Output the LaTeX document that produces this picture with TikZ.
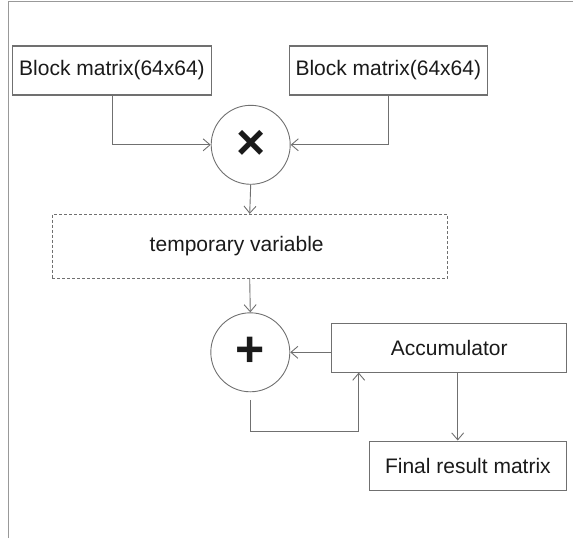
\documentclass[tikz,border=0pt]{standalone}
\usepackage{fontspec}
\setmainfont{Liberation Sans}
\usetikzlibrary{arrows.meta,calc}
\definecolor{linegray}{HTML}{707070}
\definecolor{framegray}{HTML}{999999}
\definecolor{txt}{HTML}{1A1A1A}
\begin{document}
\begin{tikzpicture}[x=1pt,y=-1pt,
  box/.style={draw=linegray,line width=1.1pt,rectangle,inner sep=0pt,text=txt,
    font=\fontsize{21}{25}\selectfont},
  opcircle/.style={draw=linegray,line width=0.9pt,circle,inner sep=0pt,minimum size=79pt,text=txt,
    font=\fontsize{50}{54}\selectfont\bfseries},
  arr/.style={draw=linegray,line width=0.9pt,-{Straight Barb[length=7pt,width=12pt]}},
  frameline/.style={draw=framegray,line width=1.5pt}
]
\useasboundingbox (0,0) rectangle (575,538);
\draw[frameline] (8.5,538) -- (8.5,1.5) -- (573,1.5);

\node[box,minimum width=198.6pt,minimum height=49pt] (b1) at (112,70.5) {Block matrix(64x64)};
\node[box,minimum width=198pt,minimum height=49pt] (b2) at (388.3,70.5) {Block matrix(64x64)};
\node[opcircle] (mul) at (250.7,144.8) {×};
\node[box,dash pattern=on 3pt off 2pt,line width=0.9pt,minimum width=395.3pt,minimum height=64pt] (temp) at (249.7,246.3) {temporary variable\hspace*{26pt}};
\node[opcircle] (add) at (250.3,352.3) {+};
\node[box,minimum width=235pt,minimum height=48.7pt] (acc) at (449.2,347.7) {Accumulator};
\node[box,minimum width=197.7pt,minimum height=49.3pt] (fin) at (467.9,465.7) {Final result matrix};

\coordinate (fb0) at ($(add.south)+(0,7.6)$);
\coordinate (fbx) at (358.7,431.7);
\coordinate (ax) at (457.7,0);

\draw[arr] (b1.south) |- (mul.west);
\draw[arr] (b2.south) |- (mul.east);
\draw[arr] (mul.south) -- (temp.north);
\draw[arr] (temp.south) -- (add.north);
\draw[arr] (acc.west |- add.east) -- (add.east);
\draw[arr] (fb0) |- (fbx) -- (fbx |- acc.south);
\draw[arr] (acc.south -| ax) -- (fin.north -| ax);
\end{tikzpicture}
\end{document}
